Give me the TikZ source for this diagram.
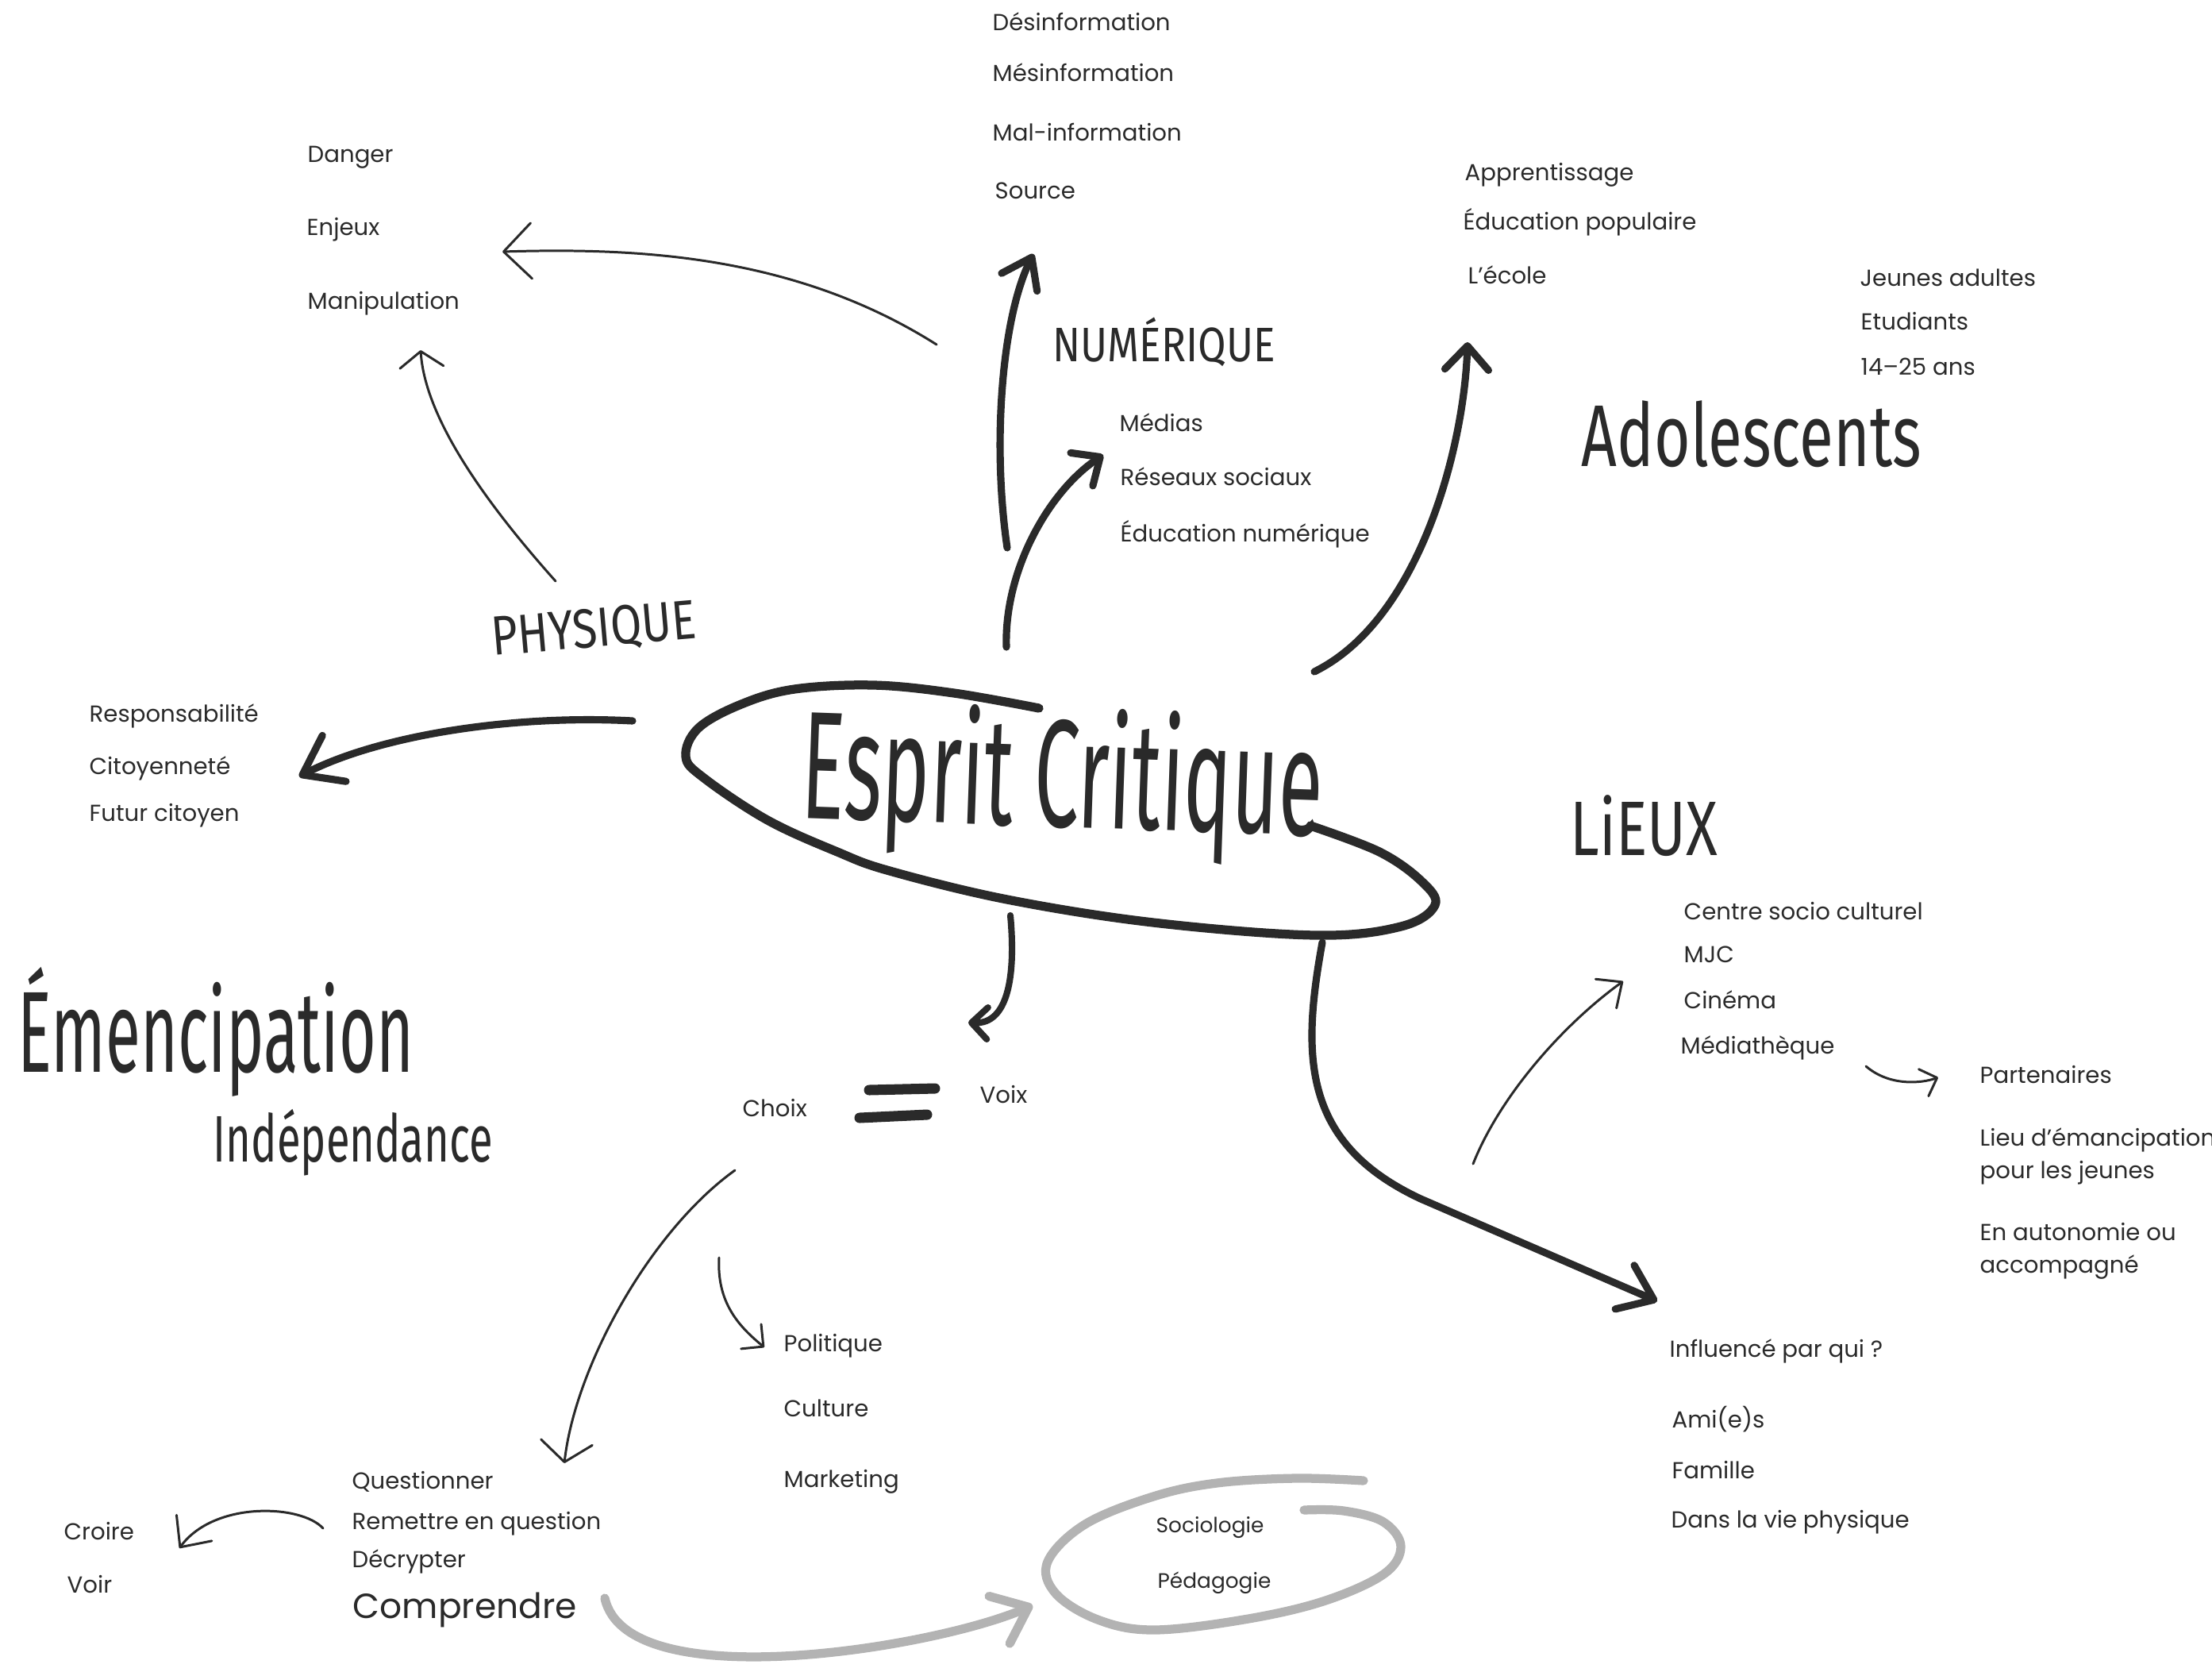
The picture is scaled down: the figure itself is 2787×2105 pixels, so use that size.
\documentclass[tikz,border=0pt]{standalone}
\usepackage{fontspec}
\setmainfont{Poppins}
\newfontfamily\handfont{Fira Sans}
\usepackage{graphicx}
\usetikzlibrary{arrows.meta}
\definecolor{ink}{HTML}{2A2A2A}
\definecolor{chalk}{HTML}{B3B3B3}
\newcommand\hand[3]{\resizebox{#1}{#2}{\raisebox{0pt}[\fontcharht\font`H][0pt]{#3}}}

\begin{document}
\begin{tikzpicture}
      [x = 0.01cm, y = -0.01cm,
      item/.style = {
         anchor = west,
         inner sep = 0pt,
         text = ink,
         font = \fontsize{8.3}{10}\selectfont,
         text height = 5.8pt,
         text depth = 0pt
      },
      big/.style = {
         item,
         font = \fontsize{12.5}{15}\selectfont,
         text height = 8.8pt
      },
      small/.style = {
         item,
         font = \fontsize{7.5}{9}\selectfont,
         text height = 5.3pt
      },
      sketch/.style = {
         anchor = base west,
         inner sep = 0pt,
         text = ink,
         font = \handfont
      },
      heavy/.style = {draw = ink, line width = 2.6pt, line cap = round, line join = round},
      light/.style = {draw = ink, line width = 0.85pt, line cap = round, line join = round},
      grey/.style = {draw = chalk, line width = 3.2pt, line cap = round, line join = round},
      head/.style 2 args = {-{Straight Barb[round, length = #1, width = #2]}}]

      \useasboundingbox (0, 0) rectangle (2787, 2105);

      \node[item] (danger) at (387, 194) {Danger};
      \node[item] (enjeux) at (386, 286) {Enjeux};
      \node[item] (manip) at (387, 379) {Manipulation};

      \node[item] (desinfo) at (1250, 28) {Désinformation};
      \node[item] (mesinfo) at (1250, 92) {Mésinformation};
      \node[item] (malinfo) at (1250, 167) {Mal-information};
      \node[item] (source) at (1253, 240) {Source};
      \node[sketch] (numerique) at (1326, 455) {\hand{2.8cm}{0.42cm}{NUMÉRIQUE}};
      \node[item] (medias) at (1410, 533) {Médias};
      \node[item] (reseaux) at (1411, 601) {Réseaux sociaux};
      \node[item] (edunum) at (1411, 672) {Éducation numérique};

      \node[item] (apprent) at (1845, 217) {Apprentissage};
      \node[item] (edupop) at (1843, 279) {Éducation populaire};
      \node[item] (ecole) at (1849, 347) {L’école};
      \node[item] (jeunes) at (2343, 350) {Jeunes adultes};
      \node[item] (etudiants) at (2344, 405) {Etudiants};
      \node[item] (ages) at (2344, 462) {14–25 ans};
      \node[sketch] (ados) at (1992, 587) {\hand{4.28cm}{0.76cm}{Adolescents}};

      \node[sketch, rotate = 5] (physique) at (621, 826) {\hand{2.58cm}{0.48cm}{PHYSIQUE}};
      \node[item] (respo) at (112, 899) {Responsabilité};
      \node[item] (citoyen) at (112, 965) {Citoyenneté};
      \node[item] (futur) at (112, 1024) {Futur citoyen};
      \node[sketch] (emancip) at (22, 1350) {\hand{4.98cm}{1cm}{Émencipation}};
      \node[sketch] (indep) at (268, 1463) {\hand{3.52cm}{0.57cm}{Indépendance}};

      \node[sketch, rotate = -2] (esprit) at (1008, 1030) {\hand{6.56cm}{1.33cm}{Esprit Critique}};
      \node[item] (choix) at (935, 1396) {Choix};
      \node[item] (voix) at (1234, 1379) {Voix};
      \node[item] (politique) at (987, 1692) {Politique};
      \node[item] (culture) at (987, 1774) {Culture};
      \node[item] (marketing) at (987, 1863) {Marketing};

      \node[item] (question) at (443, 1865) {Questionner};
      \node[item] (remettre) at (443, 1916) {Remettre en question};
      \node[item] (decrypter) at (443, 1964) {Décrypter};
      \node[big] (comprendre) at (444, 2023) {Comprendre};
      \node[item] (croire) at (80, 1929) {Croire};
      \node[item] (voir) at (84, 1996) {Voir};
      \node[small] (socio) at (1456, 1921) {Sociologie};
      \node[small] (peda) at (1458, 1991) {Pédagogie};

      \node[sketch] (lieux) at (1978, 1077) {\hand{1.85cm}{0.67cm}{LiEUX}};
      \node[item] (centre) at (2121, 1148) {Centre socio culturel};
      \node[item] (mjc) at (2121, 1202) {MJC};
      \node[item] (cinema) at (2121, 1260) {Cinéma};
      \node[item] (mediatheque) at (2117, 1317) {Médiathèque};
      \node[item] (partenaires) at (2494, 1354) {Partenaires};
      \node[item] (lieu) at (2494, 1433) {Lieu d’émancipation};
      \node[item] (jeunesse) at (2494, 1474) {pour les jeunes};
      \node[item] (autonomie) at (2494, 1552) {En autonomie ou};
      \node[item] (accomp) at (2494, 1593) {accompagné};
      \node[item] (influence) at (2103, 1699) {Influencé par qui ?};
      \node[item] (amis) at (2106, 1788) {Ami(e)s};
      \node[item] (famille) at (2106, 1852) {Famille};
      \node[item] (vie) at (2105, 1914) {Dans la vie physique};

      \draw[ink, line width = 3.2pt, line cap = round] plot[smooth, tension = 0.6] coordinates {
         (1309, 892) (1202, 873) (1101, 863) (1001, 868) (934, 887) (880, 917) (864, 953)
         (887, 980) (967, 1033) (1055, 1073) (1121, 1097) (1269, 1133) (1453, 1162)
         (1657, 1178) (1765, 1167) (1808, 1140) (1791, 1110) (1738, 1073) (1651, 1040)};
      \draw[ink, line width = 3.7pt, line cap = round] (1095, 1373) -- (1178, 1371);
      \draw[ink, line width = 3.7pt, line cap = round] (1083, 1408) -- (1168, 1404);
      \draw[grey] plot[smooth, tension = 0.6] coordinates {
         (1718, 1865) (1633, 1862) (1533, 1868) (1453, 1885) (1367, 1920) (1320, 1967)
         (1330, 2007) (1383, 2040) (1453, 2053) (1567, 2040) (1667, 2017) (1743, 1983)
         (1765, 1948) (1743, 1917) (1693, 1903) (1643, 1902)};

      \coordinate (numfoot) at (1269, 690);
      \coordinate (numtip) at (1302, 320);
      \coordinate (medfoot) at (1268, 815);
      \coordinate (medtip) at (1390, 573);
      \coordinate (adofoot) at (1656, 846);
      \coordinate (adotip) at (1849, 431);
      \coordinate (resfoot) at (797, 908);
      \coordinate (restip) at (377, 978);
      \coordinate (voixfoot) at (1273, 1153);
      \coordinate (voixtip) at (1220, 1288);
      \coordinate (inffoot) at (1666, 1187);
      \coordinate (inftip) at (2088, 1639);
      \coordinate (enjfoot) at (1180, 434);
      \coordinate (enjtip) at (633, 317);
      \coordinate (manfoot) at (700, 732);
      \coordinate (mantip) at (530, 441);
      \coordinate (lieufoot) at (1856, 1466);
      \coordinate (lieutip) at (2045, 1236);
      \coordinate (partfoot) at (2351, 1343);
      \coordinate (parttip) at (2442, 1357);
      \coordinate (quesfoot) at (926, 1474);
      \coordinate (questip) at (711, 1843);
      \coordinate (polfoot) at (906, 1584);
      \coordinate (poltip) at (963, 1697);
      \coordinate (crofoot) at (407, 1925);
      \coordinate (crotip) at (226, 1950);
      \coordinate (compfoot) at (762, 2013);
      \coordinate (comptip) at (1301, 2022);

      \draw[heavy, head = {3.5mm}{5mm}] (numfoot) .. controls (1250, 560) and (1262, 400) .. (numtip);
      \draw[heavy, head = {2.8mm}{5mm}] (medfoot) .. controls (1265, 720) and (1320, 620) .. (medtip);
      \draw[heavy, head = {3mm}{5.5mm}] (adofoot) .. controls (1790, 780) and (1845, 560) .. (adotip);
      \draw[heavy, head = {4.5mm}{6.5mm}] (resfoot) .. controls (650, 900) and (480, 925) .. (restip);
      \draw[heavy, line width = 2.3pt, head = {2mm}{4mm}] (voixfoot) .. controls (1280, 1230) and (1270, 1290) .. (voixtip);
      \draw[heavy, head = {4mm}{6mm}] (inffoot) .. controls (1640, 1330) and (1640, 1440) .. (1790, 1510) -- (inftip);
      \draw[light, head = {3.5mm}{7mm}] (enjfoot) .. controls (1000, 320) and (800, 312) .. (enjtip);
      \draw[light, head = {2mm}{5.5mm}] (manfoot) .. controls (600, 620) and (535, 520) .. (mantip);
      \draw[light, head = {2.5mm}{4.5mm}] (lieufoot) .. controls (1890, 1380) and (1970, 1290) .. (lieutip);
      \draw[light, head = {1.8mm}{3.6mm}] (partfoot) .. controls (2380, 1368) and (2420, 1365) .. (parttip);
      \draw[light, head = {2.5mm}{6.5mm}] (quesfoot) .. controls (820, 1550) and (725, 1720) .. (questip);
      \draw[light, head = {2mm}{4mm}] (polfoot) .. controls (903, 1640) and (930, 1670) .. (poltip);
      \draw[light, head = {3mm}{5.5mm}] (crofoot) .. controls (380, 1895) and (270, 1890) .. (crotip);
      \draw[grey, head = {4mm}{6.5mm}] (compfoot) .. controls (790, 2140) and (1180, 2075) .. (comptip);

   \end{tikzpicture}
\end{document}
